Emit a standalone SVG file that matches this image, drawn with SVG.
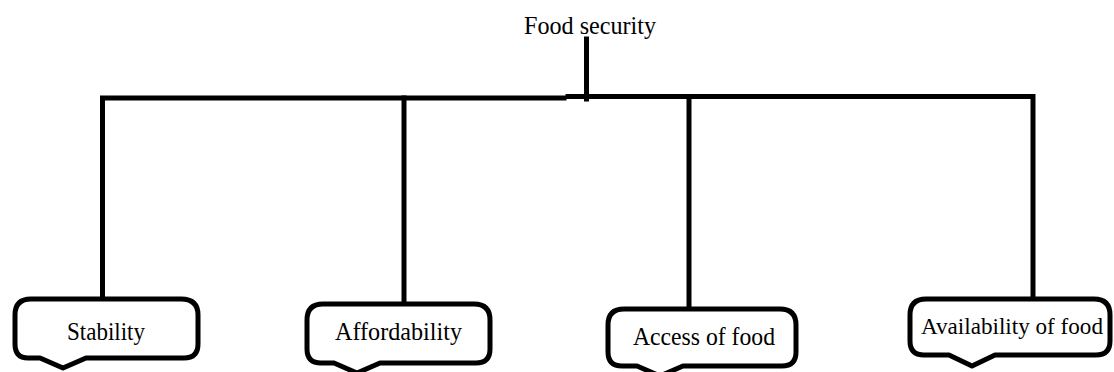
<svg xmlns="http://www.w3.org/2000/svg" width="1114" height="372" viewBox="0 0 1114 372">
<style>
.ln{stroke:#000;stroke-width:5;fill:none;stroke-linecap:square;stroke-linejoin:miter}
.bx{stroke:#000;stroke-width:5;fill:#fff;stroke-linejoin:round}
.t{font-family:"Liberation Serif","Times New Roman",serif;font-size:25.5px;fill:#000}
.s{font-size:23.5px}
</style>
<rect width="1114" height="372" fill="#fff"/>
<g id="connectors">
<path class="ln" d="M586.5,39 V99"/>
<path class="ln" d="M102.5,299 V98 H564"/>
<path class="ln" d="M568,96.5 H1033 V299"/>
<path class="ln" d="M404,98 V303"/>
<path class="ln" d="M689,97 V308"/>
</g>
<g id="food-security">
<text class="t" x="524" y="34" textLength="132" lengthAdjust="spacingAndGlyphs">Food security</text>
</g>
<g id="stability">
<path class="bx" d="M31,299 H181 Q198,299 198,315 V344 Q198,358 184,358 H86 L63,368 L40,358 H28 Q15,358 15,344 V315 Q15,299 31,299 Z"/>
<text class="t" x="67" y="340" textLength="78" lengthAdjust="spacingAndGlyphs">Stability</text>
</g>
<g id="affordability">
<path class="bx" d="M323,304 H474 Q490,304 490,320 V349 Q490,363 476,363 H380 L357,373 L334,363 H321 Q307,363 307,349 V320 Q307,304 323,304 Z"/>
<text class="t" x="335" y="340" textLength="127" lengthAdjust="spacingAndGlyphs">Affordability</text>
</g>
<g id="access-of-food">
<path class="bx" d="M624,309 H780 Q796,309 796,325 V352 Q796,366 782,366 H683 L660,376 L637,366 H622 Q608,366 608,352 V325 Q608,309 624,309 Z"/>
<text class="t" x="633" y="345" textLength="142" lengthAdjust="spacingAndGlyphs">Access of food</text>
</g>
<g id="availability-of-food">
<path class="bx" d="M926,299 H1094 Q1110,299 1110,315 V341 Q1110,355 1096,355 H995 L972,366 L949,355 H924 Q910,355 910,341 V315 Q910,299 926,299 Z"/>
<text class="t s" x="921" y="334" textLength="182" lengthAdjust="spacingAndGlyphs">Availability of food</text>
</g>
</svg>
